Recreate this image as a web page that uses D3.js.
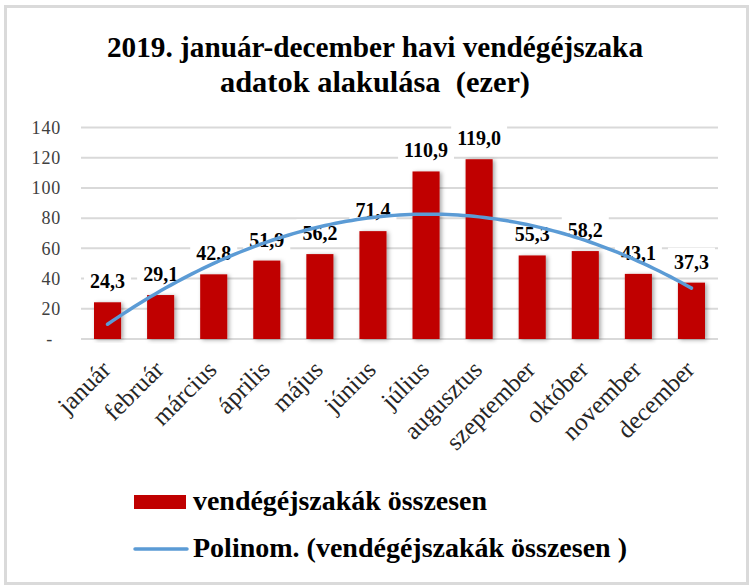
<!DOCTYPE html>
<html>
<head>
<meta charset="utf-8">
<script src="https://cdn.jsdelivr.net/npm/d3@7"></script>
<style>
    html, body { margin: 0; padding: 0; background: #fff; }
    svg { display: block; }
</style>
</head>
<body>
<div id="chart"></div>
<script>
// Monthly guest nights 2019 (thousand)
const months = ["január", "február", "március", "április", "május", "június",
    "július", "augusztus", "szeptember", "október", "november", "december"];
const nights = [24.3, 29.1, 42.8, 51.9, 56.2, 71.4, 110.9, 119.0, 55.3, 58.2, 43.1, 37.3];
const yTicks = [0, 20, 40, 60, 80, 100, 120, 140];
const titleLines = ["2019. január-december havi vendégéjszaka", "adatok alakulása  (ezer)"];
const legendLabels = ["vendégéjszakák összesen", "Polinom. (vendégéjszakák összesen )"];

const width = 749, height = 586;
const serif = "Liberation Serif";
const barColor = "#c00000";
const trendColor = "#5b9bd5";
const gridColor = "#d9d9d9";

const svg = d3.select("#chart").append("svg")
    .attr("width", width)
    .attr("height", height);

// drop shadow for bars
const defs = svg.append("defs");
const shadow = defs.append("filter").attr("id", "bar-shadow")
    .attr("x", "-30%").attr("y", "-10%").attr("width", "160%").attr("height", "120%");
shadow.append("feDropShadow")
    .attr("dx", 2).attr("dy", 1).attr("stdDeviation", 2)
    .attr("flood-color", "#000").attr("flood-opacity", 0.35);

// chart frame
svg.append("rect")
    .attr("x", 5.5).attr("y", 6.5)
    .attr("width", 742).attr("height", 577)
    .attr("fill", "#fff")
    .attr("stroke", "#dadada")
    .attr("stroke-width", 3);

// title
const titleWidths = [536, 310];
svg.append("g").selectAll("text")
    .data(titleLines)
    .enter().append("text")
    .attr("x", 375)
    .attr("y", (d, i) => 57 + i * 35)
    .attr("text-anchor", "middle")
    .attr("xml:space", "preserve")
    .attr("textLength", (d, i) => titleWidths[i])
    .attr("lengthAdjust", "spacingAndGlyphs")
    .attr("font-family", serif)
    .attr("font-weight", "bold")
    .attr("font-size", 29.5)
    .style("white-space", "pre")
    .attr("fill", "#000")
    .text(d => d);

// scales
const x = d3.scaleBand()
    .domain(months)
    .range([81, 718])
    .paddingInner(0.49)
    .paddingOuter(0.245);

const y = d3.scaleLinear()
    .domain([0, 140])
    .range([339, 127.5]);

// gridlines
svg.append("g")
    .selectAll("line")
    .data(yTicks.filter(d => d > 0))
    .enter().append("line")
    .attr("x1", 81).attr("x2", 718)
    .attr("y1", d => y(d)).attr("y2", d => y(d))
    .attr("stroke", gridColor)
    .attr("stroke-width", 2);

// y axis (labels only)
const yAxis = svg.append("g")
    .attr("transform", "translate(61,0)")
    .call(d3.axisLeft(y).tickValues(yTicks).tickSize(0).tickPadding(0)
        .tickFormat(d => d === 0 ? "-" : d));
yAxis.attr("font-family", serif).attr("font-size", 18);
yAxis.select(".domain").remove();
yAxis.selectAll("text")
    .attr("letter-spacing", 0.8)
    .attr("fill", "#404040")
    .attr("dx", d => d === 0 ? -8 : 0);

// x axis line
svg.append("line")
    .attr("x1", 81).attr("x2", 718)
    .attr("y1", y(0)).attr("y2", y(0))
    .attr("stroke", gridColor)
    .attr("stroke-width", 2);

// bars
svg.append("g")
    .selectAll("rect")
    .data(nights)
    .enter().append("rect")
    .attr("x", (d, i) => x(months[i]))
    .attr("y", d => y(d))
    .attr("width", x.bandwidth())
    .attr("height", d => y(0) - y(d))
    .attr("fill", barColor)
    .attr("filter", "url(#bar-shadow)");

// category labels, rotated
svg.append("g")
    .selectAll("text")
    .data(months)
    .enter().append("text")
    .attr("transform", d => `translate(${x(d) + x.bandwidth() / 2 + 4.5},371) rotate(-45)`)
    .attr("text-anchor", "end")
    .attr("font-family", serif)
    .attr("font-size", 25)
    .attr("fill", "#262626")
    .text(d => d);

// data labels with white background
const fmt = v => d3.format(".1f")(v).replace(".", ",");
const labels = svg.append("g");
nights.forEach((v, i) => {
    const cx = x(months[i]) + x.bandwidth() / 2;
    const g = labels.append("g");
    const bg = g.append("rect").attr("fill", "#fff");
    const t = g.append("text")
        .attr("x", cx)
        .attr("y", y(v) - 14)
        .attr("text-anchor", "middle")
        .attr("font-family", serif)
        .attr("font-weight", "bold")
        .attr("font-size", 20)
        .attr("fill", "#000")
        .text(fmt(v));
    const b = t.node().getBBox();
    bg.attr("x", b.x - 6).attr("y", b.y - 3)
        .attr("width", b.width + 12).attr("height", b.height + 4);
});

// polynomial (order 2) trendline, least squares fit of the bars
const n = nights.length;
const xs = nights.map((v, i) => i + 1);
const S = k => d3.sum(xs, t => Math.pow(t, k));
const Sy = k => d3.sum(xs, (t, i) => Math.pow(t, k) * nights[i]);
const A = [[n, S(1), S(2)], [S(1), S(2), S(3)], [S(2), S(3), S(4)]];
const B = [Sy(0), Sy(1), Sy(2)];
function solve3(M, v) {
    const m = M.map((r, i) => r.concat([v[i]]));
    for (let c = 0; c < 3; c++) {
        for (let r = c + 1; r < 3; r++) {
            const f = m[r][c] / m[c][c];
            for (let k = c; k < 4; k++) m[r][k] -= f * m[c][k];
        }
    }
    const s = [0, 0, 0];
    for (let r = 2; r >= 0; r--) {
        let acc = m[r][3];
        for (let k = r + 1; k < 3; k++) acc -= m[r][k] * s[k];
        s[r] = acc / m[r][r];
    }
    return s;
}
const coef = solve3(A, B);
const poly = t => coef[0] + coef[1] * t + coef[2] * t * t;

const step = x.step();
const x0 = x(months[0]) + x.bandwidth() / 2;
const trendPts = d3.range(1, n + 0.001, 0.1).map(t => [x0 + (t - 1) * step, y(poly(t))]);
svg.append("path")
    .attr("d", d3.line().curve(d3.curveLinear)(trendPts))
    .attr("fill", "none")
    .attr("stroke", trendColor)
    .attr("stroke-width", 3.5)
    .attr("stroke-linecap", "round");

// legend
const legend = svg.append("g");
legend.append("rect")
    .attr("x", 134).attr("y", 495)
    .attr("width", 52).attr("height", 14)
    .attr("fill", barColor);
legend.append("line")
    .attr("x1", 135).attr("x2", 187)
    .attr("y1", 549).attr("y2", 549)
    .attr("stroke", trendColor)
    .attr("stroke-width", 3.5)
    .attr("stroke-linecap", "round");
const legendWidths = [294, 434];
legend.selectAll("text")
    .data(legendLabels)
    .enter().append("text")
    .attr("x", 193)
    .attr("y", (d, i) => 510 + i * 47)
    .attr("textLength", (d, i) => legendWidths[i])
    .attr("lengthAdjust", "spacingAndGlyphs")
    .attr("font-family", serif)
    .attr("font-weight", "bold")
    .attr("font-size", 27)
    .attr("fill", "#000")
    .text(d => d);
</script>
</body>
</html>
